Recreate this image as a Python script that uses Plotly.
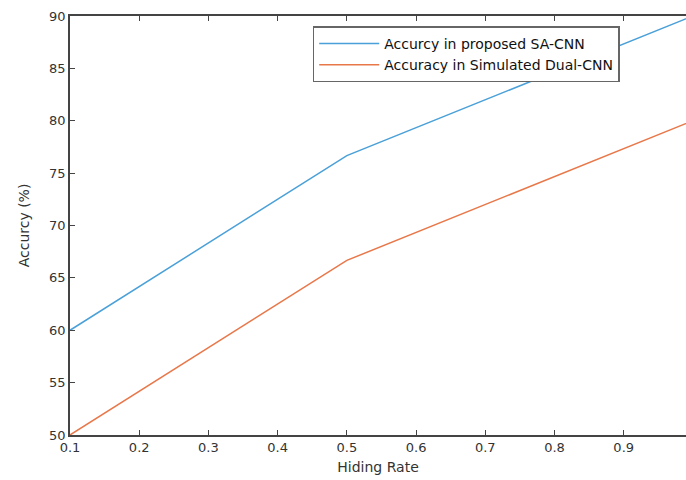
import plotly.graph_objects as go

hiding_rate = [0.1, 0.5, 1.0]
sa_cnn = [60, 76.67, 90]
dual_cnn = [50, 66.67, 80]
x_ticks = [0.1, 0.2, 0.3, 0.4, 0.5, 0.6, 0.7, 0.8, 0.9]
y_ticks = [50, 55, 60, 65, 70, 75, 80, 85, 90]

fig = go.Figure()
fig.add_trace(go.Scatter(x=hiding_rate, y=sa_cnn, mode="lines",
                         name="Accurcy in proposed SA-CNN",
                         line=dict(color="#4aa0d8", width=1.5)))
fig.add_trace(go.Scatter(x=hiding_rate, y=dual_cnn, mode="lines",
                         name="Accuracy in Simulated Dual-CNN",
                         line=dict(color="#e8784a", width=1.5)))

tick_font = dict(family="DejaVu Sans, Verdana", size=13, color="#333333")
title_font = dict(family="DejaVu Sans, Verdana", size=14, color="#333333")
fig.update_layout(
    width=686, height=480,
    margin=dict(l=70, r=0, t=16, b=45),
    paper_bgcolor="white", plot_bgcolor="white",
    font=tick_font,
    showlegend=True,
    legend=dict(x=0.394, y=0.975, xanchor="left", yanchor="top",
                bordercolor="#666666", borderwidth=1.5, bgcolor="white",
                font=dict(family="DejaVu Sans, Verdana", size=14, color="#111111"),
                tracegroupgap=0, itemwidth=60),
    xaxis=dict(range=[0.1, 0.99], tickvals=x_ticks, ticktext=[str(v) for v in x_ticks],
               showgrid=False, zeroline=False, showline=True, linecolor="#444444",
               linewidth=1.5, mirror="ticks", ticks="inside", ticklen=5,
               tickcolor="#444444", tickfont=tick_font,
               title=dict(text="Hiding Rate", standoff=8, font=title_font)),
    yaxis=dict(range=[50, 90], tickvals=y_ticks, showgrid=False, zeroline=False,
               showline=True, linecolor="#444444", linewidth=1.5,
               ticks="inside", ticklen=5, tickcolor="#444444", tickfont=tick_font,
               title=dict(text="Accurcy (%)", standoff=16, font=title_font)),
)
fig.write_html("out.html")
